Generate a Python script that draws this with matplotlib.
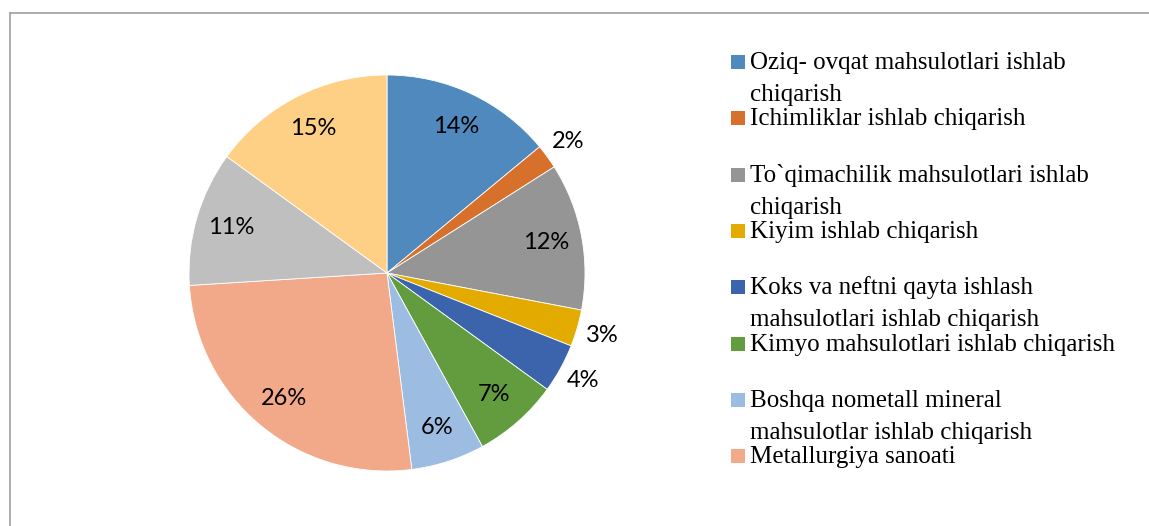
import numpy as np
import matplotlib.pyplot as plt
from matplotlib.lines import Line2D
from matplotlib.patches import Rectangle

# shares of industry branches, clockwise from 12 o'clock (%)
shares = [14, 2, 12, 3, 4, 7, 6, 26, 11, 15]
colours = ['#4F89BD', '#D6702B', '#959595', '#E3AA00', '#3C64AD',
           '#629C3F', '#9DBCE2', '#F1A98A', '#BFBFBF', '#FED086']
# only the first 8 legend entries are visible in the source
legend_labels = [
    'Oziq- ovqat mahsulotlari ishlab\nchiqarish',
    'Ichimliklar ishlab chiqarish',
    'To`qimachilik mahsulotlari ishlab\nchiqarish',
    'Kiyim ishlab chiqarish',
    'Koks va neftni qayta ishlash\nmahsulotlari ishlab chiqarish',
    'Kimyo mahsulotlari ishlab chiqarish',
    'Boshqa nometall mineral\nmahsulotlar ishlab chiqarish',
    'Metallurgiya sanoati',
]
outside = [1, 3, 4]   # small slices labelled outside the pie

W, H = 1149, 526
fig = plt.figure(figsize=(W / 100, H / 100), dpi=100)

# pie axes: centre (387, 273) px, radius 198 px
cx, cy, r = 387, 273, 198
ax = fig.add_axes([(cx - r) / W, (H - cy - r) / H, 2 * r / W, 2 * r / H])
wedges, _ = ax.pie(shares, colors=colours, startangle=90, counterclock=False,
                   wedgeprops={'linewidth': 0.6, 'edgecolor': 'white'})
ax.set_xlim(-1, 1)
ax.set_ylim(-1, 1)
ax.set_aspect('equal')

for i, (w, v) in enumerate(zip(wedges, shares)):
    ang = np.deg2rad((w.theta1 + w.theta2) / 2)
    d = 1.13 if i in outside else 0.82
    ax.text(d * np.cos(ang), d * np.sin(ang), f'{v}%', ha='center', va='center',
            fontsize=17, family='Lato', color='black', clip_on=False)

# legend drawn by hand to match the uneven spacing
for i, lab in enumerate(legend_labels):
    yc = 62 + i * 56.3
    fig.add_artist(Rectangle((731 / W, 1 - (yc + 7) / H), 14 / W, 14 / H,
                             transform=fig.transFigure, color=colours[i], lw=0))
    for j, line in enumerate(lab.split('\n')):
        fig.text(750 / W, 1 - (yc + 7 + 32 * j) / H, line, ha='left', va='baseline',
                 fontsize=18, family='Liberation Serif', color='black')

# chart border (top and left edges visible)
fig.add_artist(Line2D([10 / W, 1], [1 - 13 / H, 1 - 13 / H], color='#A0A0A0', lw=1.2))
fig.add_artist(Line2D([10 / W, 10 / W], [0, 1 - 13 / H], color='#A0A0A0', lw=1.2))

fig.savefig('out.png', dpi=100, facecolor='white')
